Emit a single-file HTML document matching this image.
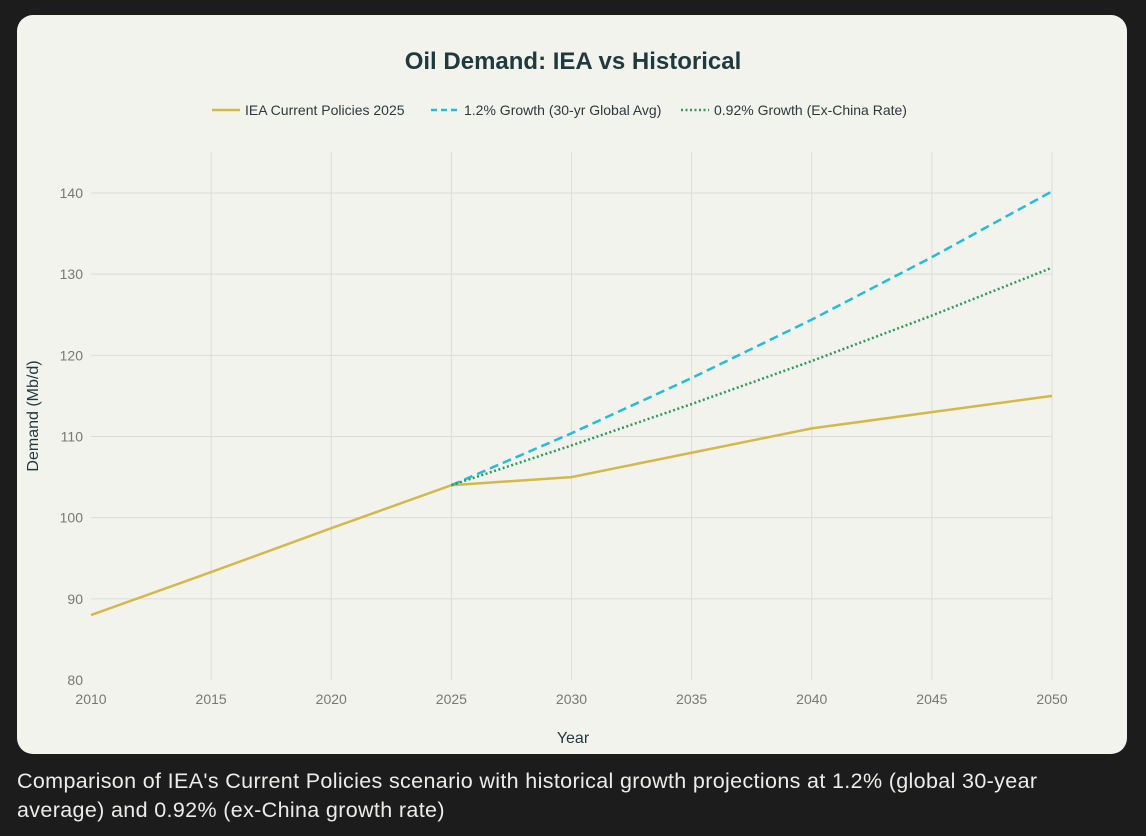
<!DOCTYPE html>
<html><head><meta charset="utf-8"><style>
html,body{margin:0;padding:0;background:#1b1c1b;width:1146px;height:836px;overflow:hidden;font-family:"Liberation Sans",sans-serif}
#card{position:absolute;left:17px;top:15px;width:1110px;height:739px;background:#f3f3ee;border-radius:16px}
#cap{position:absolute;left:17px;top:767px;width:1060px;color:#ececea;font-size:21.5px;letter-spacing:0.35px;line-height:29px}
svg{position:absolute;left:0;top:0}
</style></head><body>
<div id="card"></div>
<svg id="chart" width="1146" height="760"></svg>
<div id="cap">Comparison of IEA's Current Policies scenario with historical growth projections at 1.2% (global 30-year average) and 0.92% (ex-China growth rate)</div>
<script>
const years=[2010,2015,2020,2025,2030,2035,2040,2045,2050];
const iea=[88,93.3,98.7,104,105,108,111,113,115];
const projYears=[2025,2030,2035,2040,2045,2050];
const g12=[104,110.4,117.2,124.4,132.1,140.2];
const g092=[104,108.9,114.0,119.3,124.9,130.8];
const xTicks=[2010,2015,2020,2025,2030,2035,2040,2045,2050];
const yTicks=[80,90,100,110,120,130,140];
const svg=document.getElementById('chart');
const NS='http://www.w3.org/2000/svg';
const x=v=>91+(v-2010)*(1052-91)/40;
const y=v=>680-(v-80)*(680-193)/60;
function mk(t,a,p){const e=document.createElementNS(NS,t);for(const k in a)e.setAttribute(k,a[k]);(p||svg).appendChild(e);return e;}
let t=mk('text',{x:573,y:69,'text-anchor':'middle','font-size':24,'font-weight':'bold',fill:'#1f3a3d'});t.textContent='Oil Demand: IEA vs Historical';


for(const v of xTicks){
  if(v>2010){const l=mk('line',{x1:x(v),x2:x(v),y1:152,y2:680,stroke:'#dcdcd8','stroke-width':1});
  
  }
  const tx=mk('text',{x:x(v),y:704,'text-anchor':'middle','font-size':14,fill:'#777'});tx.textContent=v;
  
  
}
for(const v of yTicks){
  if(v>80){const l=mk('line',{x1:91,x2:1052,y1:y(v),y2:y(v),stroke:'#dcdcd8','stroke-width':1});
  
  }
  const tx=mk('text',{x:83,y:y(v)+5,'text-anchor':'end','font-size':14,fill:'#777'});tx.textContent=v;
  
  
}
t=mk('text',{x:573,y:743,'text-anchor':'middle','font-size':16,fill:'#1f3a3d'});t.textContent='Year';


t=mk('text',{x:38,y:416,'text-anchor':'middle','font-size':16,fill:'#1f3a3d',transform:'rotate(-90 38 416)'});t.textContent='Demand (Mb/d)';


function line(xs,ys,col,dash,name){
  const p=mk('polyline',{points:xs.map((v,i)=>x(v)+','+y(ys[i])).join(' '),fill:'none',stroke:col,'stroke-width':2.5,'stroke-dasharray':dash});
  
  
}
line(years,iea,'#d4b84a','none','iea-line');
line(projYears,g12,'#24bcd6','9,5','growth-1-2-line');
line(projYears,g092,'#2e9a5a','2,2.5','growth-0-92-line');
const leg=[['IEA Current Policies 2025','#d4b84a','none',212],['1.2% Growth (30-yr Global Avg)','#24bcd6','6,4',431],['0.92% Growth (Ex-China Rate)','#2e9a5a','2,2.5',681]];
for(const [lab,col,d,lx] of leg){
  const g=mk('g',{});
  
  
  mk('line',{x1:lx,x2:lx+28,y1:110,y2:110,stroke:col,'stroke-width':2.5,'stroke-dasharray':d},g);
  const tx=mk('text',{x:lx+33,y:115,'font-size':14,fill:'#2a3a3c'},g);tx.textContent=lab;
}
</script>
</body></html>
